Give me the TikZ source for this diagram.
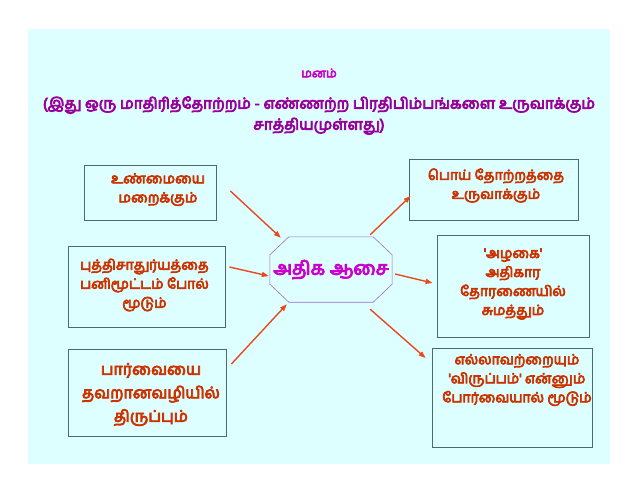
\documentclass[tikz,border=0pt]{standalone}
\usepackage{fontspec}
\newfontfamily\tamilfont[Script=Tamil,FakeBold=5]{Hind Madurai}
\usetikzlibrary{calc,positioning,arrows.meta}
\definecolor{panelbg}{RGB}{221,255,255}
\definecolor{boxline}{RGB}{74,107,107}
\definecolor{boxtextc}{RGB}{204,51,0}
\definecolor{arrowc}{RGB}{232,74,30}
\definecolor{huetitle}{RGB}{204,0,204}
\definecolor{subtitlec}{RGB}{153,0,153}
\definecolor{hubline}{RGB}{160,110,200}

\begin{document}
\begin{tikzpicture}[x=1pt,y=-1pt,
  box/.style={draw=boxline, line width=0.8pt, fill=none},
  boxtext/.style={text=boxtextc, align=center, font=\tamilfont\fontsize{14}{19}\selectfont},
  arr/.style={draw=arrowc, line width=1.4pt, -{Triangle[length=7pt,width=5pt]}}]
  \useasboundingbox (0,0) rectangle (638,493);
  % background panel
  \fill[panelbg] (28,29) rectangle (610,464);

  % Title
  \node[text=huetitle, font=\tamilfont\fontsize{12}{14}\selectfont] (title) at (319,73) {மனம்};
  \node[text=subtitlec, align=center, font=\tamilfont\fontsize{15.2}{21}\selectfont] (subtitle) at (319,115.5)
    {(இது ஒரு மாதிரித்தோற்றம் - எண்ணற்ற பிரதிபிம்பங்களை உருவாக்கும்\\சாத்தியமுள்ளது)};

  % Left boxes
  \node[box, minimum width=132pt, minimum height=55pt] (l1) at (150,192.5) {};
  \node[boxtext] (l1t) at (158,189.5) {உண்மையை\\மறைக்கும்};
  \node[box, minimum width=157pt, minimum height=81pt] (l2) at (146.5,286.5) {};
  \node[boxtext] (l2t) at (144.5,285) {புத்திசாதுர்யத்தை\\பனிமூட்டம் போல்\\மூடும்};
  \node[box, minimum width=158pt, minimum height=87pt] (l3) at (147,392.5) {};
  \node[boxtext, font=\tamilfont\fontsize{16}{23.5}\selectfont] (l3t) at (151,394.5) {பார்வையை\\தவறானவழியில்\\திருப்பும்};

  % Centre octagon
  \node[text=huetitle, minimum width=120pt, minimum height=65pt,
    font=\tamilfont\fontsize{18.8}{20}\selectfont] (hub) at (331,269.5) {அதிக ஆசை};
  \draw[hubline, line width=0.6pt]
    ($(hub.north west)+(19,0)$) -- ($(hub.north east)+(-19,0)$) -- ($(hub.north east)+(0,18)$)
    -- ($(hub.south east)+(0,-18)$) -- ($(hub.south east)+(-19,0)$) -- ($(hub.south west)+(19,0)$)
    -- ($(hub.south west)+(0,-18)$) -- ($(hub.north west)+(0,18)$) -- cycle;

  % Right boxes
  \node[box, minimum width=169pt, minimum height=61pt] (r1) at (493.5,189.5) {};
  \node[boxtext] (r1t) at (496,185.5) {பொய் தோற்றத்தை\\உருவாக்கும்};
  \node[box, minimum width=152pt, minimum height=102pt] (r2) at (513,286) {};
  \node[boxtext] (r2t) at (513,284) {'அழகை'\\அதிகார\\தோரணையில்\\சுமத்தும்};
  \node[box, minimum width=160pt, minimum height=99pt] (r3) at (512,397.5) {};
  \node[boxtext] (r3t) at (517,380) {எல்லாவற்றையும்\\'விருப்பம்' என்னும்\\போர்வையால் மூடும்};

  % Arrows
  \draw[arr] ($(l1.east)+(14,-1.5)$) -- ($(hub.north west)+(11,1)$);
  \draw[arr] ($(l2.east)+(4,-19.5)$) -- ($(hub.west)+(-1,6.5)$);
  \draw[arr] ($(l3.east)+(5,-28.5)$) -- ($(hub.south west)+(17,2)$);
  \draw[arr] ($(hub.north east)+(-22,-2)$) -- ($(r1.west)+(2,6.5)$);
  \draw[arr] ($(hub.east)+(3,4.5)$) -- ($(r2.west)+(-4,-3)$);
  \draw[arr] ($(hub.south east)+(-22,7)$) -- ($(r3.west)+(-6,-39.5)$);
\end{tikzpicture}
\end{document}
